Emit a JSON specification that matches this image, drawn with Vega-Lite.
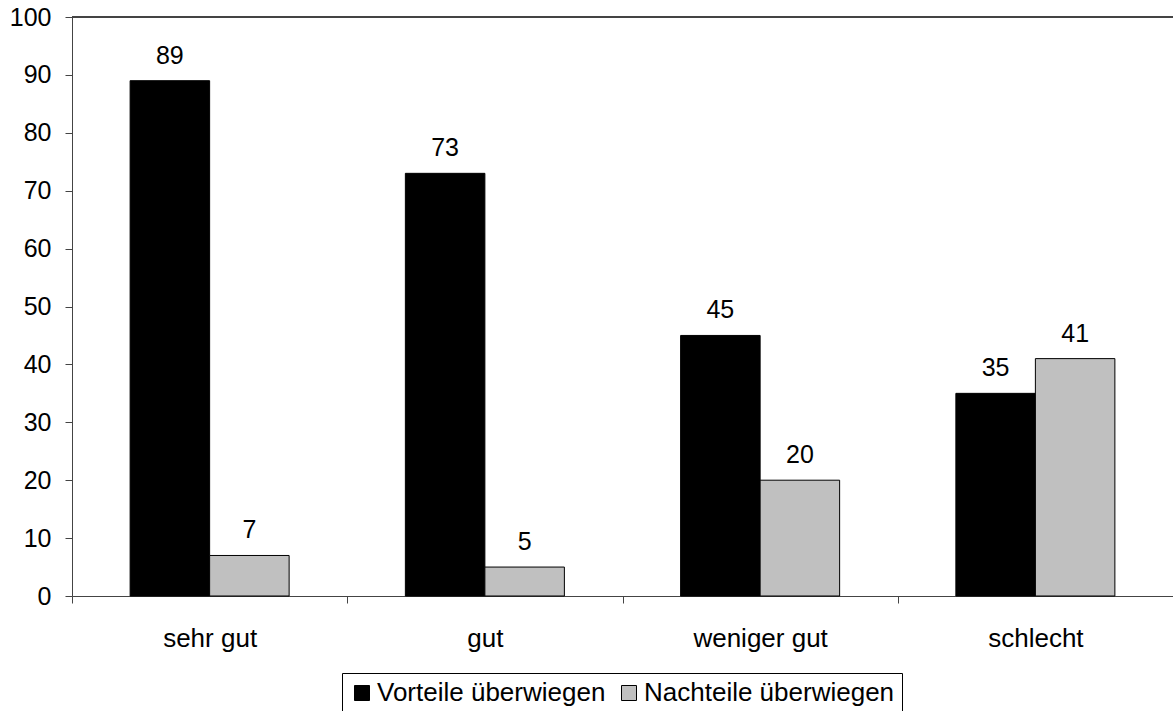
{
  "$schema": "https://vega.github.io/schema/vega-lite/v6.json",
  "autosize": {"type": "none"},
  "padding": {"left": 72, "top": 17, "right": 0, "bottom": 115},
  "width": 1101,
  "height": 579,
  "background": "white",
  "config": {
    "font": "Liberation Sans",
    "view": {"stroke": null}
  },
  "data": {
    "values": [
      {"cat": "sehr gut", "series": "Vorteile überwiegen", "value": 89},
      {"cat": "sehr gut", "series": "Nachteile überwiegen", "value": 7},
      {"cat": "gut", "series": "Vorteile überwiegen", "value": 73},
      {"cat": "gut", "series": "Nachteile überwiegen", "value": 5},
      {"cat": "weniger gut", "series": "Vorteile überwiegen", "value": 45},
      {"cat": "weniger gut", "series": "Nachteile überwiegen", "value": 20},
      {"cat": "schlecht", "series": "Vorteile überwiegen", "value": 35},
      {"cat": "schlecht", "series": "Nachteile überwiegen", "value": 41}
    ]
  },
  "encoding": {
    "x": {
      "field": "cat", "type": "nominal",
      "sort": ["sehr gut", "gut", "weniger gut", "schlecht"],
      "scale": {"paddingInner": 0, "paddingOuter": 0},
      "axis": {
        "title": null, "labelAngle": 0, "tickBand": "extent",
        "labelFontSize": 26, "labelColor": "black", "labelPadding": 22,
        "tickSize": 7, "tickColor": "#444", "domainColor": "#444", "grid": false
      }
    },
    "xOffset": {
      "field": "series", "type": "nominal",
      "sort": ["Vorteile überwiegen", "Nachteile überwiegen"],
      "scale": {"paddingInner": 0, "paddingOuter": 0.731}
    },
    "y": {
      "field": "value", "type": "quantitative",
      "scale": {"domain": [0, 100], "nice": false},
      "axis": {
        "title": null, "values": [0,10,20,30,40,50,60,70,80,90,100],
        "labelFontSize": 25, "labelColor": "black", "labelPadding": 14,
        "tickSize": 7, "tickColor": "#444", "domainColor": "#444", "grid": false
      }
    }
  },
  "layer": [
    {
      "mark": {"type": "rule", "color": "#444", "strokeWidth": 1},
      "encoding": {"y": {"datum": 100}, "x": null, "xOffset": null}
    },
    {
      "mark": {"type": "bar", "stroke": "black", "strokeWidth": 1},
      "encoding": {
        "color": {
          "field": "series", "type": "nominal",
          "sort": ["Vorteile überwiegen", "Nachteile überwiegen"],
          "scale": {"domain": ["Vorteile überwiegen", "Nachteile überwiegen"], "range": ["#000000", "#C0C0C0"]},
          "legend": {
            "title": null, "orient": "none", "legendX": 270, "legendY": 656,
            "direction": "horizontal", "columns": 2,
            "labelFontSize": 26, "labelColor": "black", "labelLimit": 500,
            "symbolType": "square", "symbolSize": 225,
            "symbolStrokeColor": "black", "symbolStrokeWidth": 1,
            "strokeColor": "black", "padding": 7, "labelOffset": 2,
            "columnPadding": 10
          }
        }
      }
    },
    {
      "mark": {"type": "text", "baseline": "alphabetic", "dy": -17, "fontSize": 25, "color": "black"},
      "encoding": {"text": {"field": "value", "type": "quantitative"}}
    }
  ]
}
